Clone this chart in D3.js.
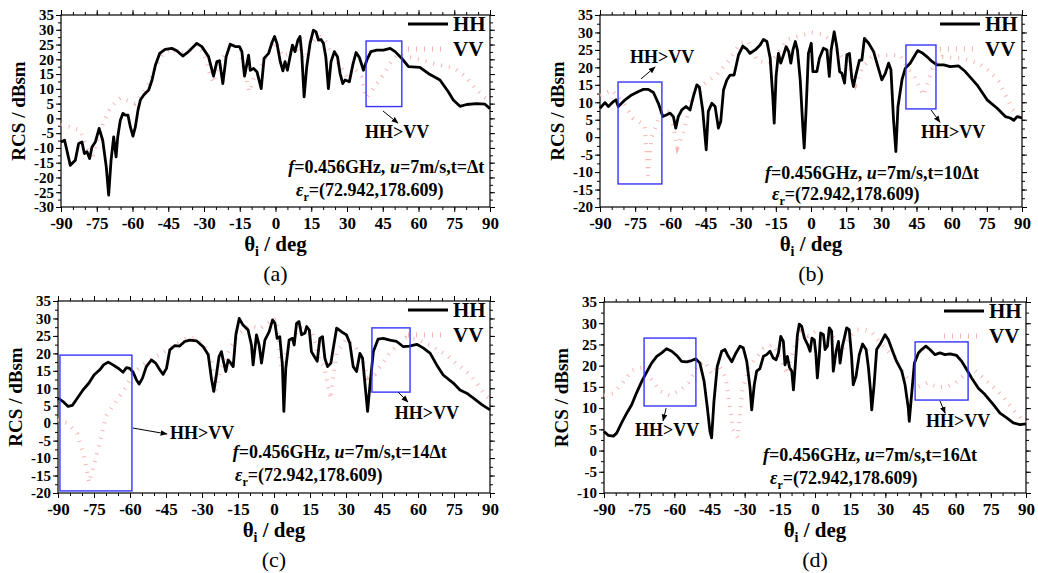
<!DOCTYPE html>
<html><head><meta charset="utf-8">
<script src="https://cdn.jsdelivr.net/npm/d3@7"></script>
<style>body{margin:0;background:#fff}svg{display:block}</style>
</head><body>
<svg id="chart" width="1038" height="573"></svg>
<script>
// ---------------- DATA ----------------
const thetaMajor = [-90,-75,-60,-45,-30,-15,0,15,30,45,60,75,90];
const thetaMinor = d3.range(-90, 90.1, 5);
const yTicksA = [-30,-25,-20,-15,-10,-5,0,5,10,15,20,25,30,35];
const yTicksB = [-20,-15,-10,-5,0,5,10,15,20,25,30,35];
const yTicksC = [-20,-15,-10,-5,0,5,10,15,20,25,30,35];
const yTicksD = [-10,-5,0,5,10,15,20,25,30,35];
const captions = ["(a)","(b)","(c)","(d)"];
const timeLabels = ["Δt","10Δt","14Δt","16Δt"];

const hhA = [[-90,-8],[-88.5,-7.4],[-86.1,-15.9],[-84,-14.2],[-82.6,-8.5],[-81.2,-8],[-80.2,-11.9],[-79.1,-11.3],[-78,-13.6],[-77,-9.7],[-75.6,-8],[-74,-3.4],[-72.5,-7.4],[-71,-16.4],[-70,-26],[-69,-14.2],[-67.9,-6.3],[-66.9,-13],[-66.2,-6.3],[-65.1,-0.6],[-64,1.7],[-63,1.1],[-61.9,1.1],[-60.9,-2.9],[-59.8,-6],[-58.8,-2.9],[-57.7,2.8],[-56.7,6.2],[-55.3,7.9],[-53.2,9.6],[-51.8,13],[-50.4,18],[-48.6,22],[-46.3,23.4],[-43.5,23.7],[-41.4,22.9],[-38.9,21.1],[-36.5,22.6],[-33,25.4],[-30.9,24.3],[-28.1,20.9],[-26,14.3],[-24.6,19.2],[-23.5,19.5],[-22.1,11.8],[-20.7,20.9],[-19,25.1],[-16.9,24.3],[-15.1,24.3],[-14.1,22.6],[-13,14.3],[-11.3,21.4],[-10.6,16.3],[-9.2,16.9],[-7.8,15.8],[-6,10.1],[-4.8,20.3],[-2.9,22],[-1.5,25.6],[-0.4,27.7],[0.6,25.4],[2,19.2],[3.1,16.1],[4,19.2],[5,16.3],[6.1,20.9],[7.1,24.8],[8.2,22.6],[9.4,26.5],[10.3,27.7],[11,22],[12,7.3],[13.1,17.4],[14.5,25.4],[15.9,29.9],[17,29.3],[18,26.5],[19.1,26.7],[20.1,25.4],[21.1,20.9],[22.2,10.1],[23.3,19.2],[24.7,22.6],[26,20.9],[27.1,15.2],[28.2,11.8],[29.2,13],[31,12.4],[32.4,18],[33.8,22.3],[35.2,20.6],[36.9,16.3],[38.3,19.7],[40,22.6],[42.5,23.1],[45.3,23.1],[48.1,23.7],[50.2,22.6],[53,20.3],[55.8,17.5],[60.6,17.3],[64.1,15.2],[69,13],[72.5,9],[74.6,6.2],[77.4,4.1],[80.2,4.7],[84.4,5],[87.9,4.8],[90,3.3]];
const vvA = [[-90,-2],[-86,-3],[-82,-4],[-79,-10],[-77,-14],[-75,-8],[-72,-1],[-69,4],[-65,7],[-62,6],[-59,5],[-56,8],[-53,12],[-50,18],[-47,22],[-44,23.5],[-40,22],[-36,23],[-33,25],[-30,22],[-28,16],[-26,12],[-24,18],[-21,22],[-18,25],[-15,23],[-13,16],[-11,9],[-9,14],[-6,18],[-3,22],[0,26],[3,21],[6,22],[9,24],[12,20],[15,25],[18,28],[21,26],[24,21],[27,18],[30,14],[33,17],[36,14],[38,7],[41,10],[45,14.5],[48,18.5],[51,21.5],[55,21],[60,20],[67,18.5],[75,17],[80,14],[84,10],[88,7],[90,6]];

const hhB = [[-90,8.3],[-87.9,9.9],[-86.4,8.8],[-84.3,10.2],[-83.2,10.7],[-82.2,8.8],[-79.3,10.7],[-76.5,12.1],[-73.6,13.1],[-71.5,13.7],[-69.4,13.7],[-67.2,12.8],[-65.1,9.7],[-63.2,5.9],[-61.5,6.4],[-60.1,6.9],[-58.7,5.9],[-57.7,2.6],[-56.6,5.9],[-55.1,7.8],[-53.3,8.8],[-51.6,7.8],[-50.2,11.6],[-48.7,15],[-47.6,14.3],[-46.2,7.8],[-44.7,-3.6],[-43.8,7.4],[-42.3,9.7],[-40.9,8.8],[-39.5,2.6],[-38.5,4.5],[-37.3,13.6],[-35.9,16.4],[-34.5,17.8],[-32.8,17.8],[-30.9,23.6],[-29.1,26.1],[-27.4,25.2],[-26,24],[-23.8,25],[-21.7,26.4],[-20.3,28],[-18.8,27.4],[-17.4,22.6],[-16.3,11.6],[-15.7,4],[-14.9,17.4],[-13.9,24],[-12.9,21.2],[-11.7,23.6],[-10.6,25.9],[-9.5,24.5],[-8.6,21.2],[-7.7,25],[-6.7,27.4],[-5.8,25],[-4.6,16.4],[-3.5,3.1],[-2.9,-3.1],[-2.1,7.8],[-1.1,24],[0.1,26.9],[0.8,18.8],[2.5,18.8],[3.6,22.6],[5.3,25.5],[6.8,25],[7.8,17.4],[8.6,25],[9.9,30.2],[11,25.9],[12.2,18.8],[13.2,18.3],[14.3,15.5],[15.3,23.6],[16.4,24],[17.4,16.9],[18.1,14.5],[19.3,18.3],[20.7,22.1],[21.7,22.1],[22.8,28.3],[24.6,26.9],[26.7,24.5],[28.1,21.2],[30.2,16.4],[31.7,18.3],[33.1,21.2],[34.1,19.3],[35.2,5],[36.2,-4.1],[37.1,8.8],[38.8,16.4],[40.2,19.7],[42.3,21.2],[44,23.1],[45.5,24.8],[47.3,24.2],[49.4,23.1],[51.6,21.7],[53.7,20.7],[56.6,20.7],[59.4,20.2],[63,20.4],[65.8,18.8],[70.8,15],[75.1,10.7],[79.4,8.3],[82.9,5.9],[85,5.5],[86.5,4.8],[87.9,5.9],[90,5.5]];
const vvB = [[-90,12],[-85,13.5],[-80,10],[-76,5.5],[-71,3.5],[-69.5,-11],[-68,0],[-64,7],[-60,7.5],[-57,-3],[-54,2],[-51,12],[-46,15],[-40,18],[-35,22],[-30,27],[-27,27.5],[-23,22],[-18,21],[-14,24],[-10,28],[-5,29],[0,30],[5,29.5],[8,28],[12,24],[16,21],[19,15],[22,20],[26,23],[32,23.5],[38,23.5],[41,20],[44,17.5],[48,12],[52,20],[56,23],[65,22.5],[72,21],[76,19],[80,16],[83,12],[86,8],[90,5]];

const hhC = [[-90,7.2],[-87.9,6.2],[-85.8,4.8],[-84,5.1],[-82.4,6.7],[-79.6,9.5],[-77.1,11.5],[-75,13.8],[-72.6,15.3],[-71,16.7],[-69.1,17.5],[-67.1,16.7],[-64.6,15.6],[-62.9,14.6],[-61.5,15.9],[-60.1,15.7],[-58.7,14.6],[-57.3,12.4],[-56.2,11.2],[-54.8,12.9],[-53.2,16.2],[-51.1,18.1],[-49.3,17.2],[-47.6,15.3],[-46.2,14],[-44.8,15.7],[-43.4,21],[-41.4,22.2],[-39.3,22.1],[-37.2,23.4],[-35.1,23.8],[-32.3,23.6],[-29.5,21.9],[-27.4,19.6],[-26.1,12.9],[-25.1,9.1],[-24,13.8],[-22.9,19.1],[-21.9,20.5],[-21.2,18.1],[-20.1,14.8],[-19.1,18.1],[-18,17.2],[-17,16.2],[-15.9,25.3],[-14.5,30],[-12.9,28.1],[-10.8,26.7],[-9.4,22.4],[-8.7,16.7],[-7.3,25.3],[-6.2,22.4],[-5.2,17.2],[-3.8,23.8],[-2,26.2],[-0.6,29.6],[0.4,28.6],[1.3,24.3],[2.4,24.8],[3.5,16.7],[4.1,3.4],[4.9,15.7],[6.3,23.8],[7.7,24.3],[8.4,22.4],[9.4,28.6],[10.4,29.1],[11.5,25.3],[12.9,25.8],[13.6,27.7],[14.7,26.7],[15.6,20.5],[16.8,19.1],[18,17.7],[19.1,24.3],[20.2,24.8],[21.2,18.6],[22.3,16.2],[23.7,17.2],[24.7,21.5],[26.1,27.2],[28.1,26.2],[30.2,25.3],[31.6,22.9],[33,16.2],[34.4,14.8],[35.8,20],[36.9,18.6],[38.2,9.1],[39,3.4],[40,11],[41.4,20.5],[43.4,24.1],[45.5,24.3],[48.3,23.8],[51.1,23.4],[53.9,21.9],[56.4,22.1],[59.5,22.6],[62.3,21.5],[65.1,20],[67.8,16.7],[70.5,13.8],[74.7,11.5],[77.5,9.5],[80.3,8.6],[83.1,7.2],[86.6,5.3],[90,3.8]];
const vvC = [[-90,1],[-86,0],[-82,-3],[-79,-10],[-77,-17],[-75,-12],[-72,-4],[-70,2],[-65,7],[-62,10],[-59,14],[-55,16.5],[-52,18],[-47,20],[-42,22],[-37,24],[-33,24.5],[-29,22],[-26,18],[-24.5,9],[-22,16],[-18,22],[-14,26],[-10,28],[-6,27],[-2,29],[1,30],[3,16],[5,20],[8,25],[12,28],[16,26],[19,18],[21,16],[23.5,7],[26,20],[30,24],[34,22],[37,18],[39,13],[42,14],[45,17],[48,20],[51,22],[55,24.5],[60,24],[67,21.5],[72,19.5],[76,17],[80,15],[84,12],[88,8],[90,7]];

const hhD = [[-90,4.5],[-88.2,3.6],[-86,3.4],[-84.6,4.1],[-82.5,6.5],[-80.3,8.8],[-78.2,10.8],[-76.1,13.6],[-73.9,16.3],[-71.8,18.5],[-69.7,20.6],[-67.5,22.2],[-65.4,23],[-63.3,24],[-61.1,23.4],[-59,22.4],[-56.9,21],[-54.7,20.9],[-52.6,21.2],[-50.8,21.6],[-49.1,20.6],[-47.3,16.3],[-45.9,10],[-44.8,4.5],[-44.1,3],[-43.1,11.6],[-41.7,19.8],[-39.8,23.4],[-38.4,23.8],[-37,22.2],[-35.5,20.9],[-33.7,23],[-32,24.6],[-30.6,24.2],[-29.1,21],[-27.7,14.7],[-27,9.6],[-25.9,15.5],[-24.9,18.7],[-23.5,19.3],[-22,22.2],[-20.6,22.6],[-19.2,23.4],[-17.8,21.8],[-16.6,21.4],[-15.6,23],[-14.6,26.9],[-13.5,25.7],[-12.8,20.2],[-11.8,22.2],[-10.9,19.6],[-9.9,18.7],[-9.2,14.3],[-8.5,19.5],[-7.5,27.3],[-6.7,29.8],[-5.7,29.3],[-4.5,26.5],[-3.1,24.9],[-2.1,23.4],[-1.3,26.5],[-0.3,26.1],[0.4,22.6],[1,17.1],[1.8,22.2],[2.4,27.7],[3.6,27.3],[4.3,23.8],[5.3,24.6],[6.1,28.9],[7.1,28.1],[7.8,18.7],[9,23.4],[10,25.7],[10.7,20.6],[11.7,24.6],[12.5,26.5],[13.5,28.9],[14.6,28.5],[15.6,22.2],[16.3,15.5],[17.5,17.5],[18.9,22.6],[20.3,25.1],[21.8,23.8],[22.8,19.5],[23.7,14],[24.2,9.6],[25.2,15.5],[26.3,23.8],[28,25.3],[29.9,27.3],[31.3,26.1],[33.1,23.4],[34.8,21],[37,18.7],[38.4,15.5],[39.8,10],[40.2,6.9],[41.2,13.2],[42.4,20.6],[44.1,23],[45.5,23.8],[47.3,24.6],[49,23.8],[51.2,22.6],[53.3,23],[55.4,22.6],[57.6,22.8],[60.4,22.4],[62.6,21],[64.7,19.1],[66.8,17.1],[69.7,14.7],[72.5,13.2],[76.1,10.8],[78.9,8.8],[81.8,7.7],[84.6,6.5],[87.4,6.1],[90,6.3]];
const vvD = [[-90,13],[-86,13.5],[-82,16],[-78,19],[-74,19.5],[-70,17],[-66,14],[-62,13],[-58,14],[-54,16],[-50,20],[-47,21],[-44,18],[-41,20],[-38,17],[-35,5],[-33,3],[-31,14],[-28,20],[-25,22],[-22,24],[-18,25],[-15,22],[-12,18],[-9,24],[-6,28],[-3,27],[0,28],[3,27],[6,28],[9,26],[12,24],[15,27],[18,28.5],[21,28.5],[24,28],[27,26],[30,24],[34,22],[38,18],[41,16],[44,15],[48,16],[52,15],[56,15],[60,16],[64,18],[68,19],[72,17],[76,15],[80,12.8],[84,10],[88,7.5],[90,6.5]];

// annotation boxes [theta0, theta1, v0, v1], arrows [[t,v],[t,v]], labels [t,v,anchor]
const boxesA = [[38,53,4,26.2]];
const boxesB = [[-82.3,-63.6,-13.4,15.8],[40.5,53.3,8.1,26.4]];
const boxesC = [[-89.2,-59.2,-19.4,19.5],[40.8,56.7,8.9,27.3]];
const boxesD = [[-72.9,-50.8,10.5,26.5],[42.7,65.3,11.9,25.6]];
const arrowsA = [[[45.1,2.5],[51.4,-1.6]]];
const arrowsB = [[[-72.5,16.7],[-66.5,20.1]],[[51.2,7.8],[55,4.3]]];
const arrowsC = [[[-58.75,-1.4],[-44.6,-3.1]],[[51.7,8.9],[55.8,6.1]]];
const arrowsD = [[[-63.5,10],[-64.8,7]],[[53.3,11.7],[55.5,8.8]]];
const notesA = [[51,-4.6,"middle"]];
const notesB = [[-63.5,23,"middle"],[60.6,1.5,"middle"]];
const notesC = [[-43.3,-2.6,"start"],[63.75,2.9,"middle"]];
const notesD = [[-63.1,4.8,"middle"],[61,7,"middle"]];
const fTextPos = [[5.3,-16.5],[-19.6,-10.3],[-17.2,-8.3],[-22.2,-1.05]];
const eTextPos = [[8.6,-24.2],[-16.6,-16.3],[-16.25,-14.8],[-19.2,-6.5]];

// ---------------- LAYOUT ----------------
const panels = [
  {left:61, right:490, top:15, bottom:207, yTicks:yTicksA, hh:hhA, vv:vvA, boxes:boxesA, arrows:arrowsA, notes:notesA},
  {left:600, right:1022, top:15, bottom:207, yTicks:yTicksB, hh:hhB, vv:vvB, boxes:boxesB, arrows:arrowsB, notes:notesB},
  {left:58, right:490, top:301, bottom:493, yTicks:yTicksC, hh:hhC, vv:vvC, boxes:boxesC, arrows:arrowsC, notes:notesC},
  {left:604, right:1026, top:302, bottom:493, yTicks:yTicksD, hh:hhD, vv:vvD, boxes:boxesD, arrows:arrowsD, notes:notesD}
];

const FONT = "'Liberation Serif','Times New Roman',serif";
const VVCOLOR = "#f7b4b4";
const svg = d3.select("#chart");
svg.append("defs").append("marker")
  .attr("id","arrow").attr("viewBox","0 0 10 10").attr("refX",9).attr("refY",5)
  .attr("markerWidth",7).attr("markerHeight",7).attr("orient","auto")
  .append("path").attr("d","M0,1 L10,5 L0,9 Z").attr("fill","#000");

panels.forEach((p, i) => {
  const yMin = p.yTicks[0], yMax = p.yTicks[p.yTicks.length-1];
  const x = d3.scaleLinear().domain([-90,90]).range([p.left,p.right]);
  const y = d3.scaleLinear().domain([yMin,yMax]).range([p.bottom,p.top]);
  const yMinor = d3.range(yMin, yMax+0.01, 2.5);
  const g = svg.append("g");
  const fmt = d => String(d);

  // minor ticks
  g.append("g").attr("transform",`translate(0,${p.bottom})`)
    .call(d3.axisBottom(x).tickValues(thetaMinor).tickSize(3).tickFormat(""));
  g.append("g").attr("transform",`translate(0,${p.top})`)
    .call(d3.axisTop(x).tickValues(thetaMinor).tickSize(3).tickFormat(""));
  g.append("g").attr("transform",`translate(${p.left},0)`)
    .call(d3.axisLeft(y).tickValues(yMinor).tickSize(3).tickFormat(""));
  g.append("g").attr("transform",`translate(${p.right},0)`)
    .call(d3.axisRight(y).tickValues(yMinor).tickSize(3).tickFormat(""));
  // major ticks
  const xAx = g.append("g").attr("transform",`translate(0,${p.bottom})`)
    .call(d3.axisBottom(x).tickValues(thetaMajor).tickSize(5).tickPadding(5).tickFormat(fmt));
  g.append("g").attr("transform",`translate(0,${p.top})`)
    .call(d3.axisTop(x).tickValues(thetaMajor).tickSize(5).tickFormat(""));
  const yAx = g.append("g").attr("transform",`translate(${p.left},0)`)
    .call(d3.axisLeft(y).tickValues(p.yTicks).tickSize(5).tickPadding(2).tickFormat(fmt));
  g.append("g").attr("transform",`translate(${p.right},0)`)
    .call(d3.axisRight(y).tickValues(p.yTicks).tickSize(5).tickFormat(""));
  g.selectAll(".domain").remove();
  g.selectAll(".tick line").attr("stroke","#000").attr("stroke-width",1);
  xAx.selectAll(".tick text").attr("font-family",FONT).attr("font-weight","bold")
    .attr("font-size",17).attr("fill","#000");
  yAx.selectAll(".tick text").attr("font-family",FONT).attr("font-weight","bold")
    .attr("font-size",15).attr("fill","#000");
  // frame
  g.append("rect").attr("x",p.left).attr("y",p.top)
    .attr("width",p.right-p.left).attr("height",p.bottom-p.top)
    .attr("fill","none").attr("stroke","#000").attr("stroke-width",1.2);

  const line = d3.line().x(d=>x(d[0])).y(d=>y(d[1]));
  // VV
  g.append("path").datum(p.vv).attr("d",line).attr("fill","none")
    .attr("stroke",VVCOLOR).attr("stroke-width",4).attr("stroke-dasharray","1,7");
  // HH
  g.append("path").datum(p.hh).attr("d",line).attr("fill","none")
    .attr("stroke","#000").attr("stroke-width",2.8).attr("stroke-linejoin","round");

  // boxes
  p.boxes.forEach(b => {
    g.append("rect").attr("x",x(b[0])).attr("y",y(b[3]))
      .attr("width",x(b[1])-x(b[0])).attr("height",y(b[2])-y(b[3]))
      .attr("fill","none").attr("stroke","#3535ff").attr("stroke-width",1.4);
  });
  p.arrows.forEach(a => {
    g.append("line").attr("x1",x(a[0][0])).attr("y1",y(a[0][1]))
      .attr("x2",x(a[1][0])).attr("y2",y(a[1][1]))
      .attr("stroke","#000").attr("stroke-width",1).attr("marker-end","url(#arrow)");
  });
  p.notes.forEach(n => {
    g.append("text").attr("x",x(n[0])).attr("y",y(n[1])).attr("dy","0.35em")
      .attr("text-anchor",n[2]).attr("font-family",FONT).attr("font-weight","bold")
      .attr("font-size",18).text("HH>VV");
  });

  // parameter text
  const ft = g.append("text").attr("x",x(fTextPos[i][0])).attr("y",y(fTextPos[i][1])).attr("dy","0.35em")
    .attr("font-family",FONT).attr("font-weight","bold").attr("font-size",18);
  ft.append("tspan").attr("font-style","italic").text("f");
  ft.append("tspan").text("=0.456GHz, ");
  ft.append("tspan").attr("font-style","italic").text("u");
  ft.append("tspan").text("=7m/s,t=" + timeLabels[i]);
  const et = g.append("text").attr("x",x(eTextPos[i][0])).attr("y",y(eTextPos[i][1])).attr("dy","0.35em")
    .attr("font-family",FONT).attr("font-weight","bold").attr("font-size",18);
  et.append("tspan").attr("font-style","italic").text("ε");
  et.append("tspan").attr("font-size",12).attr("dy","5").text("r");
  et.append("tspan").attr("dy","-5").text("=(72.942,178.609)");

  // legend
  const lx0 = p.right-82, lx1 = p.right-42;
  g.append("line").attr("x1",lx0).attr("x2",lx1).attr("y1",p.top+9).attr("y2",p.top+9)
    .attr("stroke","#000").attr("stroke-width",3);
  g.append("line").attr("x1",lx0).attr("x2",lx1).attr("y1",p.top+34).attr("y2",p.top+34)
    .attr("stroke",VVCOLOR).attr("stroke-width",5).attr("stroke-dasharray","1,7");
  ["HH","VV"].forEach((t,k) => {
    g.append("text").attr("x",p.right-37).attr("y",p.top+9+25*k).attr("dy","0.35em")
      .attr("font-family",FONT).attr("font-weight","bold").attr("font-size",21).text(t);
  });

  // axis titles
  g.append("text").attr("transform",`translate(${p.left-43},${(p.top+p.bottom)/2}) rotate(-90)`)
    .attr("text-anchor","middle").attr("dy","0.35em")
    .attr("font-family",FONT).attr("font-weight","bold").attr("font-size",19).text("RCS / dBsm");
  const xt = g.append("text").attr("x",(p.left+p.right)/2).attr("y",p.bottom+44)
    .attr("text-anchor","middle").attr("font-family",FONT).attr("font-weight","bold").attr("font-size",21);
  xt.append("tspan").text("θ");
  xt.append("tspan").attr("font-size",14).attr("dy",5).text("i");
  xt.append("tspan").attr("dy",-5).text(" / deg");
  g.append("text").attr("x",(p.left+p.right)/2).attr("y",p.bottom+74)
    .attr("text-anchor","middle").attr("font-family",FONT).attr("font-size",22).text(captions[i]);
});
</script>
</body></html>
